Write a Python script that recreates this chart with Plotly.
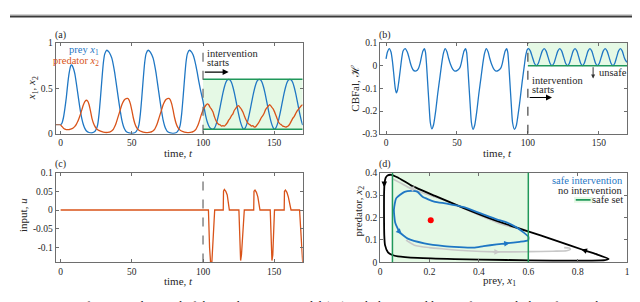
import plotly.graph_objects as go

# ---------------- data ----------------
t_x1 = [0, 1, 2, 3, 4, 5, 6, 7, 7.5, 8, 9, 10, 11, 12, 13, 14, 15, 16, 17, 18, 20, 22, 24, 25, 26, 27, 28, 29, 30, 31,
        32.4, 34, 35, 36, 37, 38, 39, 40, 41, 42, 43, 44, 45, 46, 48, 50, 52, 53, 54, 55, 56, 57, 58, 59, 60,
        61.5, 63, 64, 65, 66, 67, 68, 69, 70, 71, 72, 73, 74, 75, 77, 79, 81, 82, 83, 84, 85, 86, 87, 88, 89,
        90.5, 92, 93, 94, 95, 96, 97, 98, 99, 100,
        101, 102, 103, 104, 105, 106, 107, 108, 109, 110, 111, 112, 113, 114, 115, 116, 117, 118,
        119, 120, 121, 122, 123, 124, 125, 126, 127, 128, 128.5,
        129.5, 130.5, 131.5, 132.5, 133.5, 134.5, 135.5, 136.5, 137.5, 138.5, 139.5,
        140.5, 141.5, 142.5, 143.5, 144.5, 145.5, 146.5, 147.5, 148.5, 149.5, 150,
        151, 152, 153, 154, 155, 156, 157, 158, 159, 160, 161,
        162, 163, 164, 165, 166, 167, 168, 169, 170]
x1 = [0.1, 0.12, 0.18, 0.28, 0.4, 0.55, 0.67, 0.745, 0.76, 0.755, 0.72, 0.66, 0.56, 0.45, 0.34, 0.24, 0.16, 0.1, 0.06, 0.035, 0.015, 0.012, 0.025, 0.05, 0.1, 0.22, 0.4, 0.6, 0.78, 0.88,
      0.92, 0.9, 0.87, 0.83, 0.76, 0.67, 0.56, 0.45, 0.34, 0.24, 0.15, 0.09, 0.05, 0.025, 0.01, 0.006, 0.012, 0.025, 0.05, 0.1, 0.22, 0.4, 0.6, 0.78, 0.88,
      0.92, 0.9, 0.87, 0.83, 0.76, 0.67, 0.56, 0.45, 0.34, 0.24, 0.15, 0.09, 0.05, 0.025, 0.01, 0.006, 0.012, 0.025, 0.05, 0.1, 0.22, 0.4, 0.6, 0.78, 0.88,
      0.92, 0.9, 0.87, 0.82, 0.75, 0.67, 0.58, 0.5, 0.43, 0.36,
      0.27, 0.19, 0.13, 0.09, 0.065, 0.054, 0.05, 0.062, 0.096, 0.149, 0.217, 0.295, 0.375, 0.451, 0.516, 0.565, 0.593, 0.6,
      0.593, 0.565, 0.516, 0.451, 0.375, 0.295, 0.217, 0.149, 0.096, 0.06, 0.05,
      0.062, 0.096, 0.149, 0.217, 0.295, 0.375, 0.451, 0.516, 0.565, 0.593, 0.6,
      0.593, 0.565, 0.516, 0.451, 0.375, 0.295, 0.217, 0.149, 0.096, 0.06, 0.05,
      0.062, 0.096, 0.149, 0.217, 0.295, 0.375, 0.451, 0.516, 0.565, 0.593, 0.6,
      0.593, 0.565, 0.516, 0.451, 0.375, 0.295, 0.217, 0.149, 0.096]

t_x2 = [0, 1, 2, 3, 4, 5, 6, 7, 8, 9, 10, 11, 12, 13, 14, 15, 16, 17, 18, 19, 20, 21, 22, 23, 24, 25, 26, 28, 30, 32, 34,
        35, 36, 37, 38, 39, 40, 41, 42, 43, 44, 45, 46, 47, 48, 49, 50, 51, 52, 53, 54, 55, 57, 59, 61, 63,
        64, 65, 66, 67, 68, 69, 70, 71, 72, 73, 74, 75, 76, 77, 78, 79, 80, 81, 82, 83, 84, 86, 88, 90, 92,
        93, 94, 95, 96, 97, 98, 99, 100,
        101, 102, 103, 104, 105, 106, 107, 108, 109, 110, 111, 112, 113, 114, 115, 116, 117, 118, 119, 120,
        121, 122, 123, 124, 125, 126, 127, 128, 129, 130, 131, 132, 133, 134, 135, 136, 137, 138, 139, 140,
        141, 142, 143, 144, 145, 146, 147, 148, 149, 150, 151, 152, 153, 154, 155, 156, 157, 158, 159, 160,
        161, 162, 163, 164, 165, 166, 167, 168, 169, 170]
x2 = [0.1, 0.08, 0.062, 0.052, 0.047, 0.046, 0.048, 0.052, 0.058, 0.068, 0.083, 0.105, 0.135, 0.175, 0.22, 0.27, 0.32, 0.355, 0.37, 0.36, 0.32, 0.25, 0.17, 0.12, 0.085, 0.06, 0.045, 0.03, 0.02, 0.015, 0.018,
      0.025, 0.035, 0.05, 0.08, 0.12, 0.17, 0.22, 0.27, 0.32, 0.355, 0.378, 0.388, 0.39, 0.375, 0.33, 0.26, 0.18, 0.12, 0.08, 0.055, 0.04, 0.025, 0.017, 0.014, 0.018,
      0.025, 0.035, 0.05, 0.08, 0.12, 0.17, 0.22, 0.27, 0.32, 0.355, 0.378, 0.388, 0.39, 0.375, 0.33, 0.26, 0.18, 0.12, 0.08, 0.055, 0.04, 0.025, 0.017, 0.014, 0.018,
      0.025, 0.035, 0.05, 0.08, 0.12, 0.17, 0.22, 0.26,
      0.29, 0.315, 0.33, 0.32, 0.29, 0.27, 0.24, 0.19, 0.15, 0.12, 0.105, 0.1, 0.085, 0.09, 0.085, 0.1, 0.12, 0.15, 0.17, 0.2,
      0.22, 0.26, 0.28, 0.3, 0.31, 0.29, 0.27, 0.24, 0.2, 0.16, 0.13, 0.11, 0.1, 0.085, 0.09, 0.075, 0.08, 0.1, 0.12, 0.15,
      0.18, 0.2, 0.23, 0.27, 0.29, 0.31, 0.32, 0.3, 0.28, 0.25, 0.21, 0.17, 0.13, 0.11, 0.1, 0.085, 0.08, 0.075, 0.08, 0.09,
      0.11, 0.14, 0.17, 0.19, 0.22, 0.25, 0.27, 0.29, 0.31, 0.32]

t_H = [0, 1, 2.3, 3.5, 4.5, 5.5, 6.5, 7.3, 8, 9, 10, 11, 12, 13.5, 15, 16, 17, 18, 19, 20.5, 22, 23, 24, 25, 26, 27,
       27.8, 28.5, 29.3, 30.3, 31.2, 32.3, 33.5, 35, 36.5, 38, 39.5, 40.5, 41.7, 43, 44, 45.5, 47, 48.5, 50, 52, 53, 54, 55, 56,
       56.8, 57.5, 58.3, 59.3, 60.2, 61.3, 62.5, 64, 65.5, 67, 68.5, 69.5, 70.7, 72, 73, 74.5, 76, 77.5, 79, 81, 82, 83, 84, 85,
       85.8, 86.5, 87.3, 88.3, 89.2, 90.5, 91.8, 93, 94.5, 96, 97.5, 98.5, 99.5, 100.5,
       101.8, 103.2, 104.6, 106, 107.4, 108.75, 110.1, 111.5, 112.9, 114.25, 115.6, 117,
       118.4, 119.75, 121.1, 122.5, 123.9, 125.25, 126.6, 128,
       129.3, 130.6, 131.9, 133.25, 134.6, 135.9, 137.2, 138.5,
       139.8, 141.1, 142.4, 143.75, 145.1, 146.4, 147.7, 149,
       150.4, 151.75, 153.1, 154.5, 155.9, 157.25, 158.6, 160,
       161.3, 162.6, 163.9, 165.25, 166.6, 167.9, 169, 170]
H = [0.03, 0.06, 0.075, 0.06, 0.02, -0.04, -0.1, -0.12, -0.11, -0.07, -0.02, 0.03, 0.065, 0.075, 0.06, 0.04, 0.015, -0.005, -0.018, -0.024, -0.02, -0.01, 0.01, 0.04, 0.065, 0.075,
     0.06, 0.01, -0.07, -0.17, -0.25, -0.278, -0.26, -0.2, -0.12, -0.05, 0.02, 0.055, 0.075, 0.06, 0.035, 0.005, -0.015, -0.024, -0.022, -0.01, 0.01, 0.04, 0.065, 0.075,
     0.06, 0.01, -0.07, -0.17, -0.25, -0.28, -0.262, -0.2, -0.12, -0.05, 0.02, 0.055, 0.075, 0.06, 0.035, 0.005, -0.015, -0.024, -0.022, -0.01, 0.01, 0.04, 0.065, 0.075,
     0.06, 0.01, -0.07, -0.17, -0.25, -0.28, -0.265, -0.22, -0.15, -0.07, 0.0, 0.045, 0.07, 0.075,
     0.064, 0.0375, 0.011, 0.0, 0.011, 0.0375, 0.064, 0.075, 0.064, 0.0375, 0.011, 0.0,
     0.011, 0.0375, 0.064, 0.075, 0.064, 0.0375, 0.011, 0.0,
     0.011, 0.0375, 0.064, 0.075, 0.064, 0.0375, 0.011, 0.0,
     0.011, 0.0375, 0.064, 0.075, 0.064, 0.0375, 0.011, 0.0,
     0.011, 0.0375, 0.064, 0.075, 0.064, 0.0375, 0.011, 0.0,
     0.011, 0.0375, 0.064, 0.075, 0.064, 0.0375, 0.022, 0.015]

t_u = [0, 103.8, 104.6, 105.3, 106.2, 107.2, 108.2,
       114.2, 114.4, 115.0, 116.0, 117.0, 117.8, 118.5,
       125.2, 125.9, 126.4, 127.0, 128.0, 129.0,
       135.6, 135.8, 136.5, 137.5, 138.5, 139.3, 140.0,
       147.2, 147.9, 148.4, 149.0, 149.6, 150.2,
       157.0, 157.2, 157.9, 158.9, 159.9, 160.9, 161.8,
       167.8, 168.8, 170]
u = [0, 0, -0.1, -0.14, -0.14, -0.08, 0,
     0, 0.05, 0.055, 0.05, 0.04, 0.02, 0,
     0, -0.1, -0.135, -0.12, -0.05, 0,
     0, 0.05, 0.053, 0.047, 0.035, 0.015, 0,
     0, -0.1, -0.135, -0.12, -0.05, 0,
     0, 0.05, 0.053, 0.047, 0.035, 0.015, 0,
     0, -0.07, -0.14]

# phase plane
black_x1 = [0.925, 0.88, 0.832, 0.7, 0.599, 0.472, 0.339, 0.22, 0.125, 0.072, 0.045, 0.03, 0.022, 0.018, 0.016, 0.016,
            0.017, 0.02, 0.032, 0.05, 0.072, 0.152, 0.3, 0.512, 0.7, 0.85, 0.91, 0.925]
black_x2 = [0.016, 0.035, 0.052, 0.102, 0.138, 0.185, 0.242, 0.297, 0.343, 0.378, 0.39, 0.387, 0.375, 0.35, 0.3, 0.2,
            0.12, 0.077, 0.045, 0.033, 0.027, 0.02, 0.015, 0.011, 0.008, 0.008, 0.01, 0.016]
blue_x1 = [0.6, 0.6, 0.579, 0.552, 0.512, 0.472, 0.41, 0.339, 0.27, 0.219, 0.172, 0.152, 0.132, 0.099, 0.065, 0.056,
           0.061, 0.079, 0.112, 0.179, 0.259, 0.379, 0.419, 0.472, 0.512, 0.565, 0.599, 0.6]
blue_x2 = [0.1, 0.115, 0.135, 0.156, 0.178, 0.192, 0.217, 0.246, 0.262, 0.271, 0.292, 0.314, 0.318, 0.314, 0.285, 0.235,
           0.178, 0.135, 0.106, 0.085, 0.073, 0.066, 0.073, 0.08, 0.085, 0.092, 0.098, 0.1]
gray_bot_x1 = [0.105, 0.139, 0.2, 0.259, 0.35, 0.472, 0.6, 0.7, 0.755, 0.77, 0.765, 0.745]
gray_bot_x2 = [0.099, 0.077, 0.066, 0.06, 0.052, 0.047, 0.048, 0.05, 0.052, 0.058, 0.064, 0.066]
gray_top_x1 = [0.57, 0.512, 0.472, 0.392, 0.259, 0.125, 0.08, 0.05]
gray_top_x2 = [0.15, 0.163, 0.178, 0.214, 0.278, 0.328, 0.355, 0.372]
eq_x1 = [0.205]
eq_x2 = [0.188]

BLUE = "#1f77c4"
ORANGE = "#D95319"
GREEN = "#20985a"
LGREEN = "#e5f9e5"
GRAY = "#c8c8c8"
FONT = "Liberation Serif"
FRAME = "#6e6e6e"
TXT = "#262626"

W, Hpx = 640, 302
def px(x):
    return x / W
def py(y):
    return 1 - y / Hpx

fig = go.Figure()

# (a)
fig.add_trace(go.Scatter(x=t_x1, y=x1, mode="lines", line=dict(color=BLUE, width=1.3, shape="spline", smoothing=0.6), xaxis="x", yaxis="y"))
fig.add_trace(go.Scatter(x=t_x2, y=x2, mode="lines", line=dict(color=ORANGE, width=1.3, shape="spline", smoothing=0.6), xaxis="x", yaxis="y"))
# (b)
fig.add_trace(go.Scatter(x=t_H, y=H, mode="lines", line=dict(color=BLUE, width=1.3, shape="spline", smoothing=0.6), xaxis="x2", yaxis="y2"))
# (c)
fig.add_trace(go.Scatter(x=t_u, y=u, mode="lines", line=dict(color=ORANGE, width=1.3), xaxis="x3", yaxis="y3"))
# (d)
fig.add_trace(go.Scatter(x=gray_bot_x1, y=gray_bot_x2, mode="lines", line=dict(color=GRAY, width=1.6, shape="spline", smoothing=0.6), xaxis="x4", yaxis="y4"))
fig.add_trace(go.Scatter(x=gray_top_x1, y=gray_top_x2, mode="lines", line=dict(color=GRAY, width=1.6, shape="spline", smoothing=0.6), xaxis="x4", yaxis="y4"))
fig.add_trace(go.Scatter(x=black_x1, y=black_x2, mode="lines", line=dict(color="#000000", width=1.8, shape="spline", smoothing=0.5), xaxis="x4", yaxis="y4"))
fig.add_trace(go.Scatter(x=blue_x1, y=blue_x2, mode="lines", line=dict(color=BLUE, width=1.8, shape="spline", smoothing=0.5), xaxis="x4", yaxis="y4"))
fig.add_trace(go.Scatter(x=eq_x1, y=eq_x2, mode="markers", marker=dict(color="#ff0000", size=6), xaxis="x4", yaxis="y4"))

def axis(domain, rng, tickvals, ticktext, anchor):
    return dict(domain=domain, range=rng, tickvals=tickvals, ticktext=ticktext, anchor=anchor,
                showline=True, mirror="allticks", linecolor=FRAME, linewidth=1,
                ticks="inside", ticklen=3, tickcolor=FRAME, tickwidth=1,
                showgrid=False, zeroline=False,
                tickfont=dict(family=FONT, size=9.5, color=TXT))

xa = [px(46), px(295)]
xb = [px(373), px(622)]
ytop = [py(125), py(31)]
ybot = [py(258), py(165)]

tvals = [0, 50, 100, 150]
ttext = ["0", "50", "100", "150"]
layout = dict(
    width=W, height=Hpx, margin=dict(l=0, r=0, t=0, b=0),
    paper_bgcolor="white", plot_bgcolor="white", showlegend=False,
    xaxis=axis(xa, [-3.5, 170], tvals, ttext, "y"),
    yaxis=axis(ytop, [0, 1], [0, 0.5, 1], ["0", "0.5", "1"], "x"),
    xaxis2=axis(xb, [-4.2, 170], tvals, ttext, "y2"),
    yaxis2=axis(ytop, [-0.3, 0.1], [-0.3, -0.2, -0.1, 0, 0.1], ["-0.3", "-0.2", "-0.1", "0", "0.1"], "x2"),
    xaxis3=axis(xa, [-3.5, 170], tvals, ttext, "y3"),
    yaxis3=axis(ybot, [-0.14, 0.1], [-0.1, -0.05, 0, 0.05, 0.1], ["-0.1", "-0.05", "0", "0.05", "0.1"], "x3"),
    xaxis4=axis(xb, [0, 1], [0, 0.2, 0.4, 0.6, 0.8, 1], ["0", "0.2", "0.4", "0.6", "0.8", "1"], "y4"),
    yaxis4=axis(ybot, [0, 0.4], [0, 0.1, 0.2, 0.3, 0.4], ["0", "0.1", "0.2", "0.3", "0.4"], "x4"),
)

shapes = []
def rect(xr, yr, x0, x1_, y0, y1_, color):
    shapes.append(dict(type="rect", xref=xr, yref=yr, x0=x0, x1=x1_, y0=y0, y1=y1_, fillcolor=color, line=dict(width=0), layer="below"))
def line(xr, yr, x0, y0, x1_, y1_, color, width=1.5, dash="solid"):
    shapes.append(dict(type="line", xref=xr, yref=yr, x0=x0, y0=y0, x1=x1_, y1=y1_, line=dict(color=color, width=width, dash=dash)))

# (a)
rect("x", "y", 100, 170, 0.05, 0.6, LGREEN)
line("x", "y", 100, 0.6, 170, 0.6, GREEN)
line("x", "y", 100, 0.05, 170, 0.05, GREEN)
line("x", "y", 100, 0, 100, 1, "#666666", 1.2, "dash")
line("x", "y", -3.5, 0.1, 0, 0.1, "#8a4a30", 1.2, "dash")
# (b)
rect("x2", "y2", 100, 170, 0, 0.1, LGREEN)
line("x2", "y2", 100, 0, 170, 0, GREEN)
line("x2", "y2", 100, -0.3, 100, 0.1, "#444444", 1.2, "dash")
# (c)
line("x3", "y3", 100, -0.14, 100, 0.1, "#666666", 1.2, "dash")
# (d)
rect("x4", "y4", 0.05, 0.6, 0, 0.4, LGREEN)
line("x4", "y4", 0.05, 0, 0.05, 0.4, GREEN)
line("x4", "y4", 0.6, 0, 0.6, 0.4, GREEN)
rect("x4", "y4", 0.785, 0.862, 0.266, 0.291, LGREEN)
line("x4", "y4", 0.792, 0.2785, 0.852, 0.2785, GREEN, 1.8)
# top rule
line("paper", "paper", 0, py(3.6), 1, py(3.6), "#3a3a3a", 1.8)
line("paper", "paper", 0, py(1.8), 1, py(1.8), "#9a9a9a", 0.6)
layout["shapes"] = shapes

ann = []
def text(x, y, s, xref="paper", yref="paper", size=10.5, color=TXT, xanchor="center", yanchor="middle", angle=0):
    ann.append(dict(x=x, y=y, xref=xref, yref=yref, text=s, showarrow=False, xanchor=xanchor, yanchor=yanchor,
                    textangle=angle, font=dict(family=FONT, size=size, color=color)))
def arrow(xr, yr, x, y, ax, ay, color="#000000", width=1.2, head=2, size=1.0):
    ann.append(dict(x=x, y=y, ax=ax, ay=ay, xref=xr, yref=yr, axref=xr, ayref=yr, text="", showarrow=True,
                    arrowhead=head, arrowsize=size, arrowwidth=width, arrowcolor=color, standoff=0, startstandoff=0))

# panel labels
text(px(51), py(22.5), "(a)", size=10)
text(px(378), py(22.5), "(b)", size=10)
text(px(51), py(156.5), "(c)", size=10)
text(px(378), py(156.5), "(d)", size=10)
# axis titles
text(px(170), py(145), "time, <i>t</i>", size=11)
text(px(491), py(145), "time, <i>t</i>", size=11)
text(px(170), py(277), "time, <i>t</i>", size=11)
text(px(493), py(277), "prey, <i>x</i><sub>1</sub>", size=11)
text(px(23), py(78), "<i>x</i><sub>1</sub>, <i>x</i><sub>2</sub>", size=11, angle=-90)
text(px(348), py(78), "CBFal, ℋ", size=11, angle=-90)
text(px(13), py(209), "input, <i>u</i>", size=11, angle=-90)
text(px(352), py(205), "predator, <i>x</i><sub>2</sub>", size=11, angle=-90)
# (a) annotations
text(28.6, 0.92, "prey <i>x</i><sub>1</sub>", "x", "y", color=BLUE, xanchor="right")
text(28.6, 0.80, "predator <i>x</i><sub>2</sub>", "x", "y", color=ORANGE, xanchor="right")
text(101.5, 0.885, "intervention", "x", "y", xanchor="left")
text(101.5, 0.785, "starts", "x", "y", xanchor="left")
arrow("x", "y", 118, 0.68, 100.2, 0.68)
# (b) annotations
text(101.5, -0.066, "intervention", "x2", "y2", xanchor="left")
text(101.5, -0.104, "starts", "x2", "y2", xanchor="left")
arrow("x2", "y2", 117, -0.14, 100.2, -0.14)
text(148.5, -0.03, "unsafe", "x2", "y2", xanchor="left")
arrow("x2", "y2", 146, -0.056, 146, 0, "#333333", 1.0, 2, 0.8)
# (d) legend text
text(0.99, 0.364, "safe intervention", "x4", "y4", color=BLUE, xanchor="right")
text(0.99, 0.321, "no intervention", "x4", "y4", xanchor="right")
text(0.99, 0.278, "safe set", "x4", "y4", xanchor="right")
# (d) direction arrows
arrow("x4", "y4", 0.017, 0.335, 0.017, 0.36, "#000000", 1.4, 2, 0.8)
arrow("x4", "y4", 0.815, 0.058, 0.85, 0.045, "#000000", 1.4, 2, 0.8)
arrow("x4", "y4", 0.087, 0.126, 0.07, 0.146, BLUE, 1.4, 2, 0.8)
arrow("x4", "y4", 0.525, 0.0865, 0.49, 0.082, BLUE, 1.4, 2, 0.8)
arrow("x4", "y4", 0.115, 0.334, 0.15, 0.322, GRAY, 1.4, 2, 0.8)
arrow("x4", "y4", 0.485, 0.047, 0.45, 0.047, GRAY, 1.4, 2, 0.8)
# caption (cut off at the bottom of the page)
ann.append(dict(x=0, y=py(294.0), xref="paper", yref="paper", showarrow=False, xanchor="left", yanchor="top",
                text="<b>FIGURE 2</b> Safety-critical control of the predator–prey model (26) with the control barrier functional; the safe set is kept invariant by the",
                font=dict(family=FONT, size=12.5, color="#111111")))
layout["annotations"] = ann

fig.update_layout(**layout)
fig.write_html("out.html")
